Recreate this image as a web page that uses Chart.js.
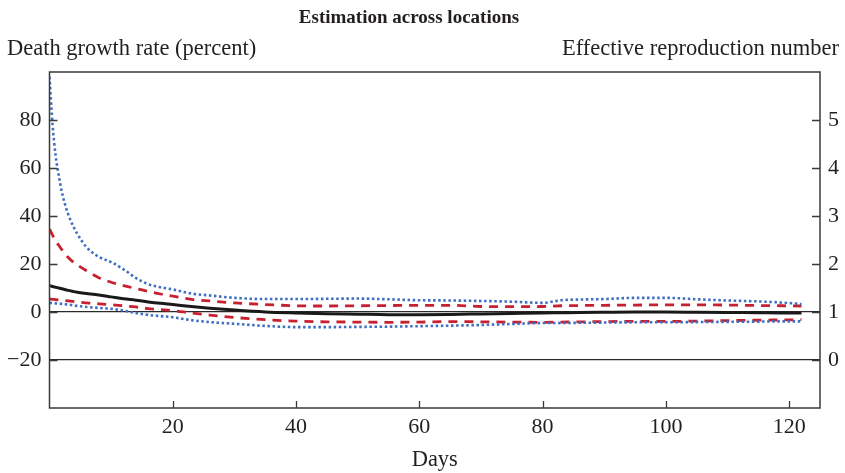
<!DOCTYPE html>
<html>
<head>
<meta charset="utf-8">
<script src="https://cdn.jsdelivr.net/npm/chart.js@4"></script>
<style>
  html, body { margin: 0; padding: 0; background: #fff; }
</style>
</head>
<body>
<canvas id="c" width="845" height="473"></canvas>
<script>
// Days since the start of the estimation window
const days = [0, 0.5, 1, 1.5, 2, 3, 4, 5, 6, 8, 10, 12, 14, 16, 18, 20, 23, 26, 30, 35, 40, 45, 50, 55, 60, 65, 70, 75, 80, 83, 86, 90, 95, 100, 105, 110, 115, 119, 122];

// Death growth rate (percent): point estimate and two bands
const upperOuter = [98, 78, 65, 57, 50, 41, 35, 30.5, 27, 23, 20.8, 17.8, 14.2, 11.6, 10.3, 9.4, 7.7, 6.9, 5.9, 5.4, 5.4, 5.5, 5.6, 5.3, 4.9, 4.8, 4.6, 4.3, 3.8, 4.9, 5.2, 5.4, 5.9, 5.9, 5.3, 4.8, 4.4, 3.9, 3.3];
const upperInner = [34.5, 32, 29.5, 27.8, 26, 22.8, 20.5, 18.8, 17.2, 14.3, 12.4, 11, 9.8, 8.6, 7.5, 6.6, 5.3, 4.6, 3.8, 3.1, 2.6, 2.5, 2.6, 2.7, 2.8, 2.8, 2.3, 2.2, 2.3, 2.6, 2.7, 2.8, 2.9, 3.0, 3.0, 2.9, 2.7, 2.6, 2.5];
const estimate   = [11, 10.6, 10.3, 10, 9.7, 9.0, 8.5, 8.0, 7.7, 7.1, 6.3, 5.5, 4.9, 4.2, 3.6, 3.1, 2.3, 1.6, 0.8, 0.0, -0.4, -0.7, -0.9, -1.1, -1.1, -1.0, -0.8, -0.6, -0.4, -0.3, -0.2, -0.1, 0.0, 0.0, -0.1, -0.2, -0.3, -0.4, -0.4];
const lowerInner = [5.4, 5.3, 5.2, 5.0, 4.9, 4.6, 4.3, 4.1, 3.8, 3.4, 3.0, 2.6, 2.1, 1.4, 1.0, 0.6, -0.4, -1.3, -2.3, -3.2, -3.8, -4.1, -4.2, -4.3, -4.2, -4.0, -4.1, -4.2, -4.3, -4.2, -4.1, -4.0, -3.9, -3.9, -3.8, -3.6, -3.4, -3.3, -3.2];
const lowerOuter = [3.8, 3.7, 3.6, 3.5, 3.4, 3.1, 2.7, 2.4, 2.1, 1.7, 1.3, 0.6, -0.4, -1.2, -1.7, -2.2, -3.4, -4.2, -4.9, -5.8, -6.3, -6.3, -6.2, -6.1, -5.9, -5.7, -5.4, -5.0, -4.6, -4.6, -4.5, -4.4, -4.3, -4.3, -4.2, -4.1, -4.0, -3.9, -3.9];

// Tick labels
const leftTicks = [-20, 0, 20, 40, 60, 80];
const rightTicks = [0, 1, 2, 3, 4, 5];
const dayTicks = [20, 40, 60, 80, 100, 120];
const refLines = [0, -20];

const SERIF = '"Liberation Serif", "DejaVu Serif", serif';
const INK = '#231f20';
const BLUE = '#3f6fc1';
const RED = '#c8202f';

const pts = arr => days.map((d, i) => ({ x: d, y: arr[i] }));

const bandStyle = (color, dash, width) => ({
  borderColor: color,
  borderWidth: width,
  borderDash: dash,
  borderCapStyle: 'butt',
  pointRadius: 0,
  fill: false,
  cubicInterpolationMode: 'monotone'
});

// Frame, inward ticks and header texts
const decorations = {
  id: 'decorations',
  afterDraw(chart) {
    const { ctx, chartArea: a, scales } = chart;
    ctx.save();
    ctx.strokeStyle = '#3a3a3a';
    ctx.lineWidth = 1.5;
    ctx.strokeRect(a.left, a.top, a.right - a.left, a.bottom - a.top);

    ctx.beginPath();
    leftTicks.forEach(v => {
      const y = Math.round(scales.y.getPixelForValue(v)) + 0.5;
      ctx.moveTo(a.left, y); ctx.lineTo(a.left + 8, y);
    });
    rightTicks.forEach(v => {
      const y = Math.round(scales.y2.getPixelForValue(v)) + 0.5;
      ctx.moveTo(a.right - 8, y); ctx.lineTo(a.right, y);
    });
    dayTicks.forEach(v => {
      const x = Math.round(scales.x.getPixelForValue(v)) + 0.5;
      ctx.moveTo(x, a.bottom); ctx.lineTo(x, a.bottom - 7);
    });
    ctx.lineWidth = 1.3;
    ctx.stroke();

    ctx.fillStyle = INK;
    ctx.textBaseline = 'alphabetic';
    ctx.font = 'bold 19px ' + SERIF;
    ctx.textAlign = 'center';
    ctx.fillText('Estimation across locations', 409, 23);

    ctx.font = '22.5px ' + SERIF;
    ctx.textAlign = 'left';
    ctx.fillText('Death growth rate (percent)', 7, 55);
    ctx.textAlign = 'right';
    ctx.fillText('Effective reproduction number', 839, 55);
    ctx.textAlign = 'center';
    ctx.fillText('Days', (a.left + a.right) / 2, 466);
    ctx.restore();
  }
};

new Chart(document.getElementById('c'), {
  type: 'line',
  data: {
    datasets: [
      { label: 'Upper outer', data: pts(upperOuter), ...bandStyle(BLUE, [2.5, 2.6], 2.6) },
      { label: 'Lower outer', data: pts(lowerOuter), ...bandStyle(BLUE, [2.5, 2.6], 2.6) },
      { label: 'Upper inner', data: pts(upperInner), ...bandStyle(RED, [9, 7], 2.8) },
      { label: 'Lower inner', data: pts(lowerInner), ...bandStyle(RED, [9, 7], 2.8) },
      { label: 'Estimate', data: pts(estimate), ...bandStyle('#1a1a1a', [], 3) }
    ]
  },
  options: {
    responsive: false,
    animation: false,
    layout: { padding: { top: 72, left: 0, right: 0, bottom: 0 } },
    plugins: { legend: { display: false }, title: { display: false }, tooltip: { enabled: false } },
    scales: {
      x: {
        type: 'linear',
        min: 0, max: 125,
        afterFit: s => { s.height = 65; },
        afterBuildTicks: s => { s.ticks = [0, ...dayTicks].map(v => ({ value: v })); },
        ticks: {
          padding: 6,
          color: INK,
          font: { family: SERIF, size: 22 },
          callback: v => dayTicks.includes(v) ? String(v) : ''
        },
        grid: { display: false, drawTicks: false },
        border: { display: false }
      },
      y: {
        position: 'left',
        min: -40, max: 100,
        afterFit: s => { s.width = 49.5; },
        afterBuildTicks: s => { s.ticks = [-40, ...leftTicks, 100].map(v => ({ value: v })); },
        ticks: {
          padding: 8,
          color: INK,
          font: { family: SERIF, size: 22 },
          callback: v => leftTicks.includes(v) ? (v < 0 ? '\u2212' + Math.abs(v) : String(v)) : ''
        },
        grid: {
          drawTicks: false,
          lineWidth: 1.2,
          color: c => refLines.includes(c.tick && c.tick.value) ? '#2a2a2a' : 'rgba(0,0,0,0)'
        },
        border: { display: false }
      },
      y2: {
        position: 'right',
        min: -1, max: 6,
        afterFit: s => { s.width = 25; },
        afterBuildTicks: s => { s.ticks = [-1, ...rightTicks, 6].map(v => ({ value: v })); },
        ticks: {
          padding: 8,
          color: INK,
          font: { family: SERIF, size: 22 },
          callback: v => rightTicks.includes(v) ? String(v) : ''
        },
        grid: { display: false, drawTicks: false },
        border: { display: false }
      }
    }
  },
  plugins: [decorations]
});
</script>
</body>
</html>
